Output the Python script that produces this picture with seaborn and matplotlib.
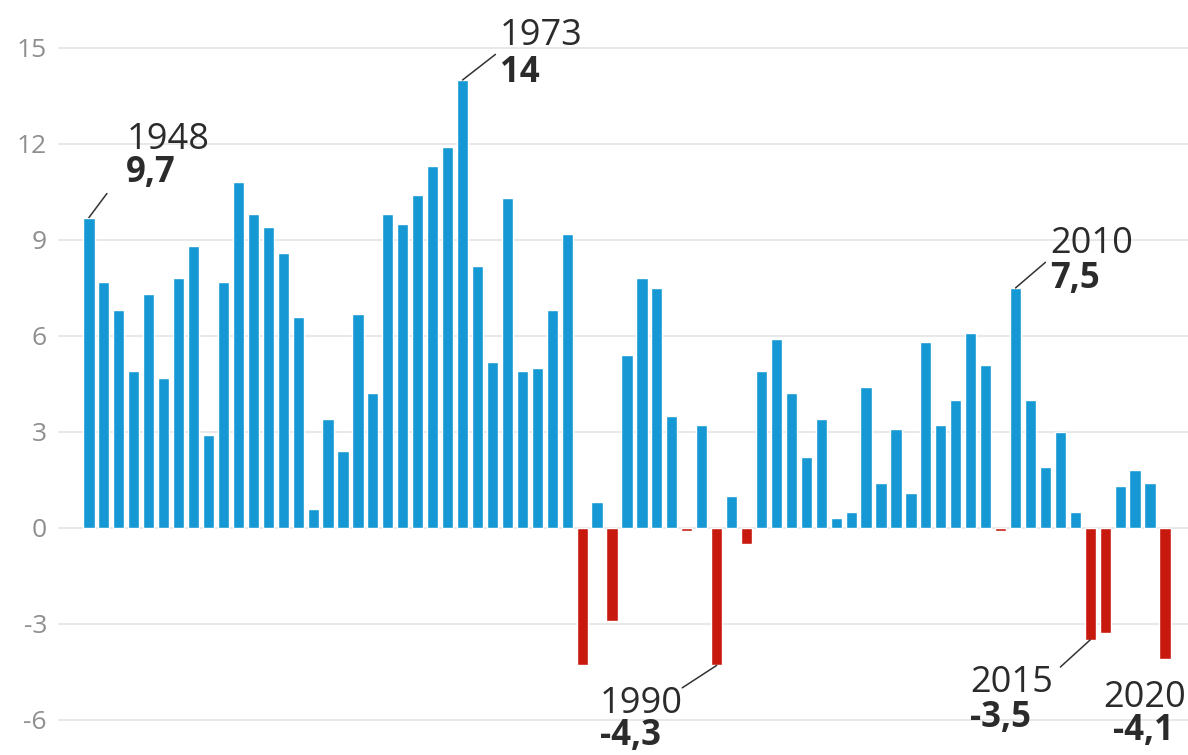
import numpy as np
import pandas as pd
import seaborn as sns
import matplotlib.pyplot as plt

# Crescimento anual do PIB (%), 1948-2020
years = list(range(1948, 2021))
growth = [9.7, 7.7, 6.8, 4.9, 7.3, 4.7, 7.8, 8.8, 2.9, 7.7,
          10.8, 9.8, 9.4, 8.6, 6.6, 0.6, 3.4, 2.4, 6.7, 4.2,
          9.8, 9.5, 10.4, 11.3, 11.9, 14.0, 8.2, 5.2, 10.3, 4.9,
          5.0, 6.8, 9.2, -4.3, 0.8, -2.9, 5.4, 7.8, 7.5, 3.5,
          -0.1, 3.2, -4.3, 1.0, -0.5, 4.9, 5.9, 4.2, 2.2, 3.4,
          0.3, 0.5, 4.4, 1.4, 3.1, 1.1, 5.8, 3.2, 4.0, 6.1,
          5.1, -0.1, 7.5, 4.0, 1.9, 3.0, 0.5, -3.5, -3.3, 1.3,
          1.8, 1.4, -4.1]
yticks = [-6, -3, 0, 3, 6, 9, 12, 15]

BLUE = "#1598d3"
RED = "#c8190f"

sns.set_theme(style="white")
plt.rcParams['font.family'] = ['Open Sans', 'DejaVu Sans']
plt.rcParams['axes.unicode_minus'] = False

df = pd.DataFrame({"ano": years, "pib": growth})
df["sinal"] = np.where(df["pib"] < 0, "neg", "pos")

fig = plt.figure(figsize=(11.88, 7.55), dpi=100)
ax = fig.add_axes([58 / 1188, 0, 1 - 58 / 1188, 1])

sns.barplot(data=df, x="ano", y="pib", hue="sinal", palette={"pos": BLUE, "neg": RED},
            native_scale=True, dodge=False, width=0.75, saturation=1, legend=False,
            ax=ax, zorder=2)

ax.set_xlim(1945.93, 2021.54)
ax.set_ylim(-7.1, 16.5)
ax.set_yticks(yticks)
ax.set_yticklabels([str(t) for t in yticks])
ax.set_xticks([])
ax.set_xlabel("")
ax.set_ylabel("")
ax.grid(axis="y", color="#e4e4e4", linewidth=1.2, zorder=0)
ax.tick_params(axis="y", length=0, pad=8, labelsize=19, labelcolor="#8f8f8f")
for s in ax.spines.values():
    s.set_visible(False)

txt = "#2b2b2b"
big = 26

def label(x, y, year, val):
    ax.text(x, y[0], str(year), fontsize=big, color=txt, va="baseline", ha="left")
    ax.text(x, y[1], val, fontsize=big - 1, color=txt, fontweight="bold", va="baseline", ha="left")

# 1948
ax.plot([1948, 1949.2], [9.7, 10.45], color="#333333", lw=1.1, zorder=3)
label(1950.5, (11.85, 10.8), 1948, "9,7")
# 1973
ax.plot([1973, 1975.2], [14.0, 14.8], color="#333333", lw=1.1, zorder=3)
label(1975.5, (15.1, 13.95), 1973, "14")
# 2010
ax.plot([2010, 2012.0], [7.5, 8.3], color="#333333", lw=1.1, zorder=3)
label(2012.3, (8.6, 7.5), 2010, "7,5")
# 1990
ax.plot([1990, 1987.7], [-4.3, -5.0], color="#333333", lw=1.1, zorder=3)
label(1982.2, (-5.78, -6.8), 1990, "-4,3")
# 2015
ax.plot([2015, 2013.0], [-3.5, -4.35], color="#333333", lw=1.1, zorder=3)
label(2006.97, (-5.13, -6.22), 2015, "-3,5")
# 2020
ax.text(2015.9, -5.6, "2020", fontsize=big, color=txt, va="baseline", ha="left")
ax.text(2016.5, -6.62, "-4,1", fontsize=big - 1, color=txt, fontweight="bold", va="baseline", ha="left")

fig.savefig("out.png", dpi=100)
